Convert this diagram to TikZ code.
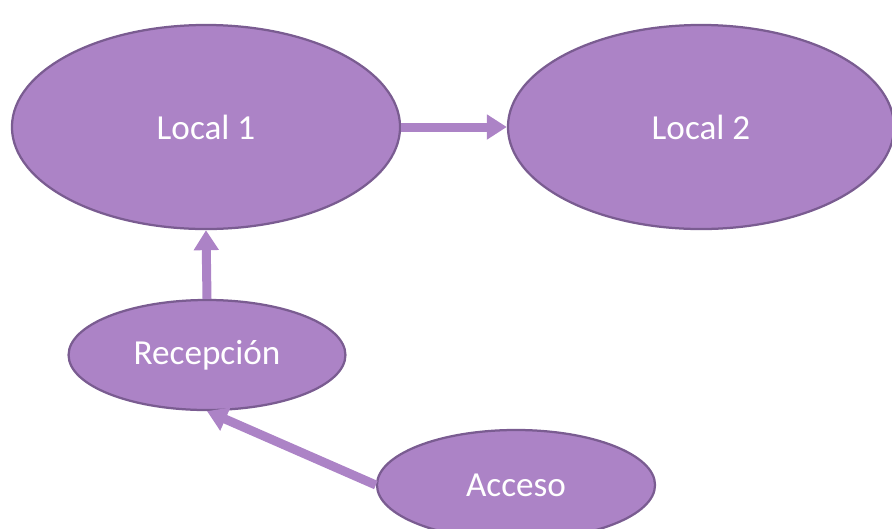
\documentclass[tikz,border=0pt]{standalone}
\usepackage{fontspec}
\setmainfont{Carlito}
\usetikzlibrary{shapes.geometric,arrows.meta}
\definecolor{lila}{HTML}{AC83C6}
\definecolor{lilaborde}{HTML}{7A5C91}
\begin{document}
\begin{tikzpicture}[x=0.025cm,y=-0.025cm]
   \useasboundingbox (0,0) rectangle (892,528);
   \tikzstyle{zona}=[ellipse, fill=lila, draw=lilaborde, line width=1.6pt, inner sep=0pt, text=white, font=\fontsize{25}{30}\selectfont]
   \tikzstyle{flecha}=[draw=lila, line width=6.4pt, -{Triangle[width=0.6cm,length=0.5cm]}]
   \node[zona, minimum width=9.7cm, minimum height=5.1cm] (local1) at (206,127) {Local 1};
   \node[zona, minimum width=9.65cm, minimum height=5.1cm] (local2) at (701,127) {Local 2};
   \node[zona, minimum width=6.92cm, minimum height=2.75cm] (recepcion) at (207,355) {Recepción};
   \node[zona, minimum width=6.95cm, minimum height=2.75cm] (acceso) at (516,485) {Acceso};
   \path[flecha] (local1.east) -- (local2.west);
   \path[flecha] (recepcion.north) -- (local1.south);
   \path[flecha] (acceso.west) -- (recepcion.south);
\end{tikzpicture}
\end{document}
